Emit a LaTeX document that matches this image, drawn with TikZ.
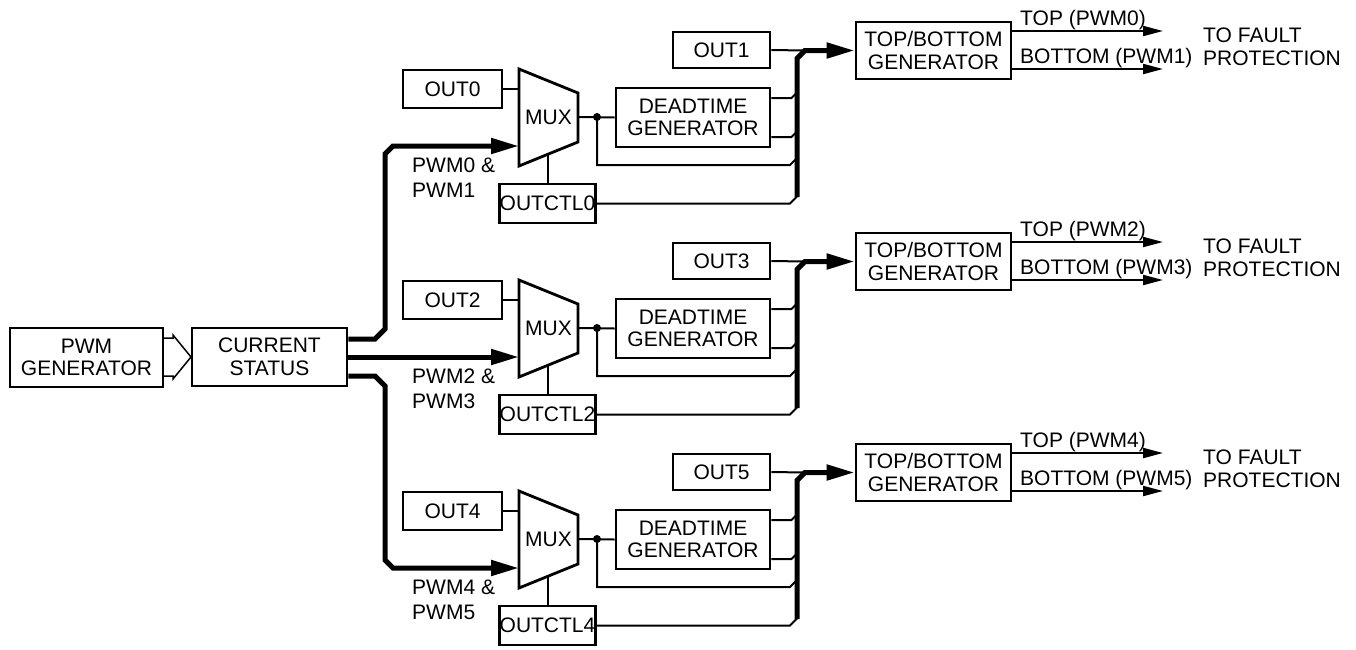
\documentclass[tikz,border=0pt]{standalone}
\usepackage{fontspec}
\setmainfont{Liberation Sans}
\usetikzlibrary{arrows.meta,calc}
\begin{document}
\begin{tikzpicture}[x=1pt,y=-1pt,
  box/.style={draw,line width=2.8pt,inner sep=0pt,align=center,font=\fontsize{21}{22.5}\selectfont},
  lbl/.style={inner sep=0pt,align=left,font=\fontsize{21}{22.5}\selectfont},
  thin/.style={line width=2pt},
  bus/.style={line width=5pt},
  bigtip/.style={-{Triangle[length=28pt,width=15pt]}},
  smalltip/.style={-{Triangle[length=20pt,width=10pt]}},
]
\useasboundingbox (0,0) rectangle (1356,649);

\node[box,minimum width=153pt,minimum height=59pt] (pwmgen) at (86.5,357.5) {PWM\\GENERATOR};
\node[box,minimum width=155pt,minimum height=58pt] (cs) at (269.5,357) {CURRENT\\STATUS};
\draw[line width=1.5pt] (163,338) -- (173,338) -- (173,335) -- (191,357) -- (173,379) -- (173,376) -- (163,376);

\foreach \k/\a/\b in {0/0/1,1/2/3,2/4/5}{
\begin{scope}[shift={(0,211*\k)}]
  \node[box,minimum width=99pt,minimum height=38pt] (out\a) at (452.5,89) {OUT\a};
  \draw[line width=2.8pt] (519,69) -- (578,93) -- (578,142) -- (519,166) -- cycle;
  \node[lbl] (mux\k) at (548.5,117) {MUX};
  \coordinate (mi\k) at (519,146);
  \coordinate (mo\k) at (578,117);
  \coordinate (dot\k) at (597,117);
  \draw[thin] (out\a.east) -- (519,89);
  \node[box,minimum width=95pt,minimum height=39pt] (ctl\a) at (547.5,203.5) {OUTCTL\a};
  \draw[thin] (ctl\a.north) -- ++(0,-30);
  \node[box,minimum width=154pt,minimum height=59pt] (dt\k) at (693,117.5) {DEADTIME\\GENERATOR};
  \draw[thin] (mo\k) -- (dt\k.west);
  \fill (dot\k) circle (4pt);
  \node[box,minimum width=97pt,minimum height=36pt] (out\b) at (721.5,50) {OUT\b};
  \node[box,minimum width=155pt,minimum height=57pt] (tb\k) at (933.5,50.5) {TOP/BOTTOM\\GENERATOR};
  \coordinate (busb\k) at (797,197);
  \draw[thin] ($(dt\k.east)+(0,-19.5)$) -- ++(20,0) -- ++(7,-7);
  \draw[thin] ($(dt\k.east)+(0,19.5)$) -- ++(20,0) -- ++(7,-7);
  \draw[thin] (dot\k) -- (597,165) -- (790,165) -- (797,158);
  \draw[thin] (ctl\a.east) -- (790,203.5) -- (797,196.5);
  \draw[thin] (out\b.east) -- (805,50.5);
  \draw[bus,bigtip] (busb\k) -- (797,58.5) -- (805,50.5) -- (tb\k.west);
  \coordinate (tt\k) at (1163,31);
  \coordinate (bt\k) at (1163,69);
  \draw[thin,smalltip] ($(tb\k.east)+(0,-19.5)$) -- (tt\k);
  \draw[thin,smalltip] ($(tb\k.east)+(0,18.5)$) -- (bt\k);
  \node[lbl,anchor=base west] (tl\k) at (1020,25) {TOP (PWM\a)};
  \node[lbl,anchor=base west] (bl\k) at (1020,63) {BOTTOM (PWM\b)};
  \node[lbl,anchor=base west] (fp\k) at (1203,65) {TO FAULT\\PROTECTION};
  \node[lbl,anchor=base west,font=\fontsize{21}{25}\selectfont] (pl\k) at (412,197.5) {PWM\a\ \&\\PWM\b};
\end{scope}}

\draw[bus,bigtip] ($(cs.east)+(0,-18)$) -- (375,339) -- (385,329) -- (385,154) -- (393,146) -- (mi0);
\draw[bus,bigtip] (cs.east) -- (mi1);
\draw[bus,bigtip] ($(cs.east)+(0,19)$) -- (375,376) -- (385,386) -- (385,560) -- (393,568) -- (mi2);
\end{tikzpicture}
\end{document}
